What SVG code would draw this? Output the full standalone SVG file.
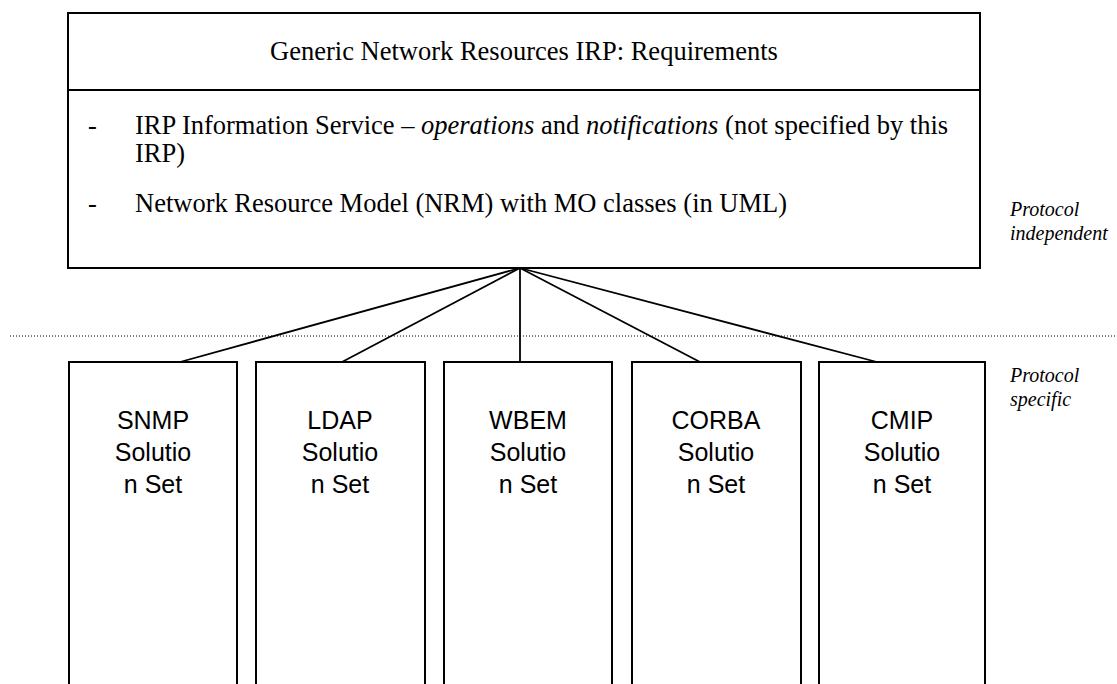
<svg xmlns="http://www.w3.org/2000/svg" width="1117" height="684" viewBox="0 0 1117 684">
<style>
.box{fill:#fff;stroke:#000;stroke-width:2}
.conn{stroke:#000;stroke-width:1.8;fill:none}
.serif{font-family:"Liberation Serif","Times New Roman",serif;font-size:26.5px;fill:#000}
.note{font-family:"Liberation Serif","Times New Roman",serif;font-size:20px;font-style:italic;fill:#000}
.sans{font-family:"Liberation Sans",Arial,sans-serif;font-size:25px;fill:#000;text-anchor:middle}
</style>
<rect width="1117" height="684" fill="#fff"/>
<line x1="10" y1="336" x2="1117" y2="336" stroke="#000" stroke-width="1" stroke-dasharray="1,2"/>
<g id="irp">
<rect class="box" x="68" y="13" width="912" height="255"/>
<line x1="68" y1="90" x2="980" y2="90" stroke="#000" stroke-width="2"/>
<text class="serif" x="524" y="60" text-anchor="middle">Generic Network Resources IRP: Requirements</text>
<text class="serif" x="88" y="134">-</text>
<text class="serif" x="135" y="134">IRP Information Service – <tspan font-style="italic">operations</tspan> and <tspan font-style="italic">notifications</tspan> (not specified by this</text>
<text class="serif" x="135" y="162">IRP)</text>
<text class="serif" x="88" y="212">-</text>
<text class="serif" x="135" y="212">Network Resource Model (NRM) with MO classes (in UML)</text>
</g>
<g id="labels">
<text class="note" x="1010" y="216">Protocol</text>
<text class="note" x="1010" y="240">independent</text>
<text class="note" x="1010" y="382">Protocol</text>
<text class="note" x="1010" y="406">specific</text>
</g>
<g id="connectors">
<line class="conn" x1="520" y1="268" x2="180" y2="362"/>
<line class="conn" x1="520" y1="268" x2="342" y2="362"/>
<line class="conn" x1="520" y1="268" x2="520" y2="362"/>
<line class="conn" x1="520" y1="268" x2="700" y2="362"/>
<line class="conn" x1="520" y1="268" x2="877" y2="362"/>
</g>
<g id="snmp">
<rect class="box" x="69" y="362" width="168" height="340"/>
<text class="sans" x="153" y="429">SNMP</text>
<text class="sans" x="153" y="461">Solutio</text>
<text class="sans" x="153" y="493">n Set</text>
</g>
<g id="ldap">
<rect class="box" x="256" y="362" width="169" height="340"/>
<text class="sans" x="340" y="429">LDAP</text>
<text class="sans" x="340" y="461">Solutio</text>
<text class="sans" x="340" y="493">n Set</text>
</g>
<g id="wbem">
<rect class="box" x="444" y="362" width="168" height="340"/>
<text class="sans" x="528" y="429">WBEM</text>
<text class="sans" x="528" y="461">Solutio</text>
<text class="sans" x="528" y="493">n Set</text>
</g>
<g id="corba">
<rect class="box" x="632" y="362" width="169" height="340"/>
<text class="sans" x="716" y="429">CORBA</text>
<text class="sans" x="716" y="461">Solutio</text>
<text class="sans" x="716" y="493">n Set</text>
</g>
<g id="cmip">
<rect class="box" x="819" y="362" width="166" height="340"/>
<text class="sans" x="902" y="429">CMIP</text>
<text class="sans" x="902" y="461">Solutio</text>
<text class="sans" x="902" y="493">n Set</text>
</g>
</svg>
